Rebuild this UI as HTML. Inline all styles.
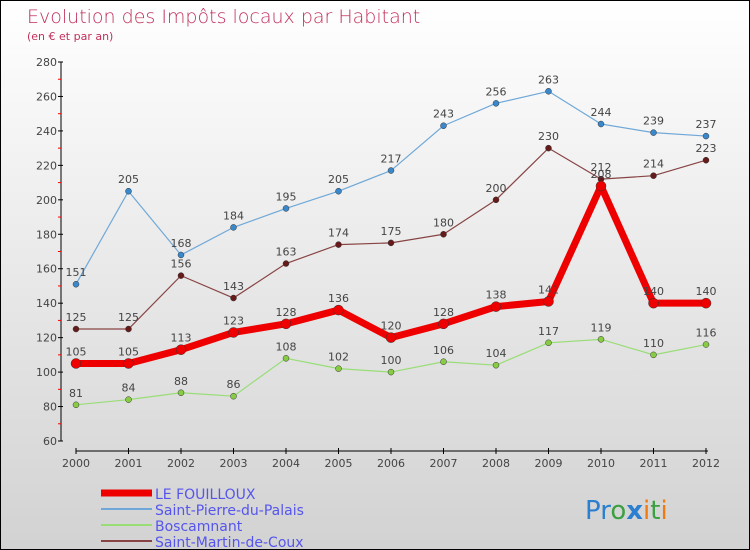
<!DOCTYPE html>
<html><head><meta charset="utf-8"><style>
body{margin:0}
#c{position:relative;width:748px;height:548px;border:1px solid #000;background:linear-gradient(#fff,#d2d2d2);font-family:"DejaVu Sans","Liberation Sans",sans-serif;overflow:hidden}
</style></head><body>
<div id="c">
<svg id="s" width="748" height="548">
<text x="26" y="22" font-size="19" fill="#c0305a" font-weight="200">Evolution des Impôts locaux par Habitant</text>
<text x="26" y="39" font-size="11" fill="#c0305a">(en € et par an)</text>
<g id="g"></g>
<text x="584" y="518" font-size="26" font-family="DejaVu Sans"><tspan fill="#2a7fd0">Pr</tspan><tspan fill="#3aa040">o</tspan><tspan fill="#2a7fd0" font-weight="bold">x</tspan><tspan fill="#f07a10">i</tspan><tspan fill="#3aa040">t</tspan><tspan fill="#f07a10">i</tspan></text>
</svg>
</div>
<script>
const years=[2000,2001,2002,2003,2004,2005,2006,2007,2008,2009,2010,2011,2012];
const yTicks=[60,80,100,120,140,160,180,200,220,240,260,280];
const fouilloux=[105,105,113,123,128,136,120,128,138,141,208,140,140];
const stPierre=[151,205,168,184,195,205,217,243,256,263,244,239,237];
const boscamnant=[81,84,88,86,108,102,100,106,104,117,119,110,116];
const stMartin=[125,125,156,143,163,174,175,180,200,230,212,214,223];
const ns="http://www.w3.org/2000/svg";
const g=document.getElementById('g');
const X=i=>75+i*52.5;
const Y=v=>440-(v-60)*379/220;
function mk(t,a,p){const e=document.createElementNS(ns,t);for(const k in a)e.setAttribute(k,a[k]);(p||g).appendChild(e);return e;}
let e=mk('line',{x1:60,y1:61,x2:60,y2:440,stroke:'#000','stroke-width':1});


e=mk('line',{x1:75,y1:450,x2:707,y2:450,stroke:'#000','stroke-width':1});


yTicks.forEach((v,i)=>{
 mk('line',{x1:57,y1:Y(v),x2:62,y2:Y(v),stroke:'#000'});
 if(i<yTicks.length-1) mk('line',{x1:57,y1:Y(v+10),x2:60,y2:Y(v+10),stroke:'#f00'});
 const t=mk('text',{x:56,y:Y(v)+4,'font-size':11,fill:'#444','text-anchor':'end'});t.textContent=v;
 
 
});
years.forEach((y,i)=>{
 mk('line',{x1:X(i),y1:447,x2:X(i),y2:453,stroke:'#000'});
 const t=mk('text',{x:X(i),y:466,'font-size':11,fill:'#444','text-anchor':'middle'});t.textContent=y;
 
 
});
function series(d,col,w,r,dot,name){
 const p=mk('polyline',{points:d.map((v,i)=>X(i)+','+Y(v)).join(' '),fill:'none',stroke:col,'stroke-width':w,'stroke-linejoin':'round'});
 
 
 d.forEach((v,i)=>{
  const c=mk('circle',{cx:X(i),cy:Y(v),r:r,fill:dot,stroke:'#333','stroke-width':0.5});
  
  
  const t=mk('text',{x:X(i),y:Y(v)-8,'font-size':11,fill:'#444','text-anchor':'middle'});t.textContent=v;
  
  
 });
}
series(boscamnant,'#99dd77',1.2,3,'#88cc44','boscamnant');
series(stMartin,'#884444',1.2,3,'#661a1a','saint-martin');
series(stPierre,'#6fa8d8',1.2,3,'#3a88cc','saint-pierre');
series(fouilloux,'#ee0000',7,5,'#ee0000','le-fouilloux');
const leg=[['LE FOUILLOUX','#ee0000',7],['Saint-Pierre-du-Palais','#6fa8d8',2],['Boscamnant','#99dd77',2],['Saint-Martin-de-Coux','#884444',2]];
leg.forEach((l,i)=>{
 const y=492+i*16;
 const ln=mk('line',{x1:100,y1:y,x2:151,y2:y,stroke:l[1],'stroke-width':l[2]});
 
 
 const t=mk('text',{x:154,y:y+6,'font-size':14,fill:'#5555ee'});t.textContent=l[0];
 
 
});
</script>
</body></html>
